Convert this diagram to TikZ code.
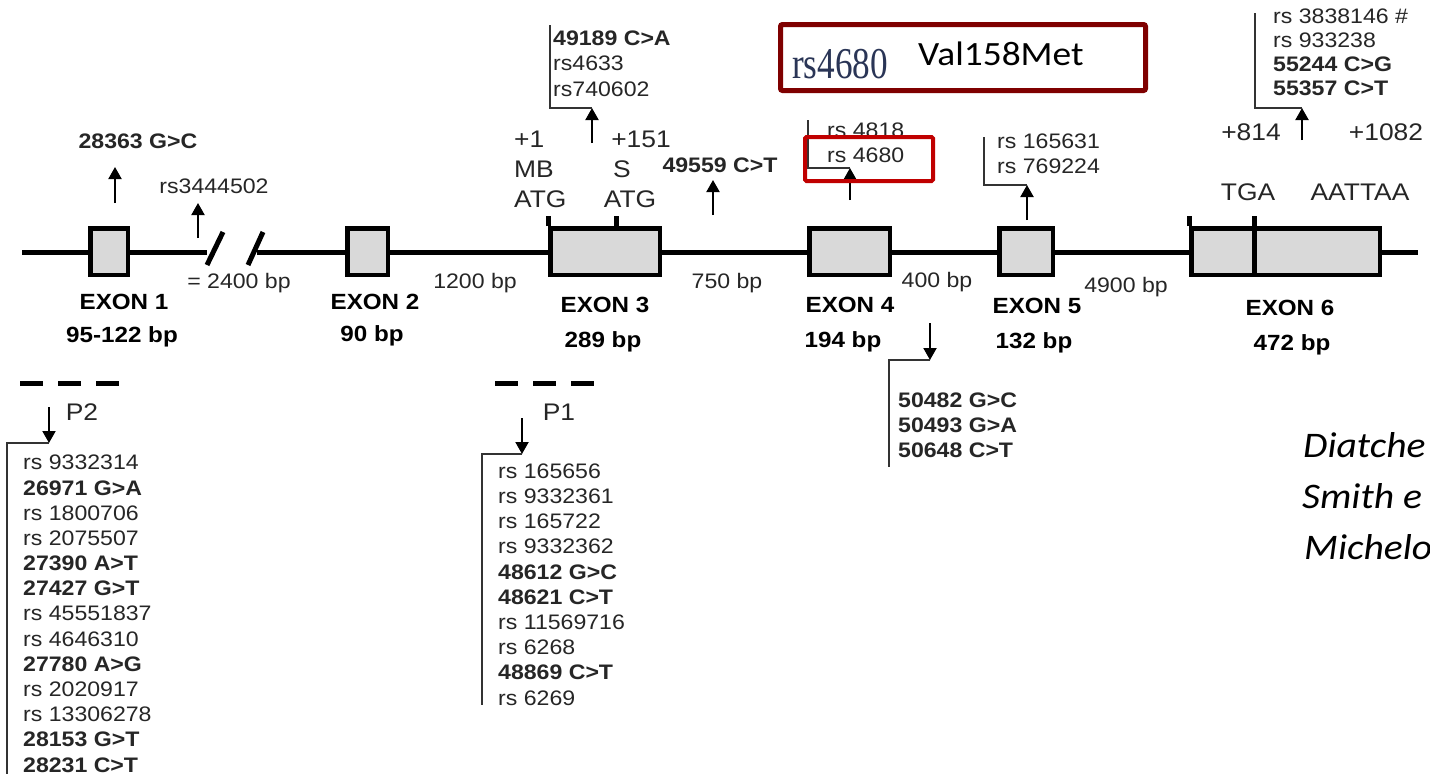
\documentclass[tikz,border=0pt]{standalone}
\usepackage{fontspec}
\setmainfont{Liberation Sans}[FakeStretch=1.1]
\newfontfamily\calfont{Carlito}[FakeStretch=1.1]
\newfontfamily\serfont{Liberation Serif}
\usetikzlibrary{arrows.meta}
\definecolor{exongray}{HTML}{D9D9D9}
\definecolor{hlred}{HTML}{C00000}
\definecolor{boxmaroon}{HTML}{7F0000}
\definecolor{txtgray}{HTML}{262626}
\definecolor{rsblue}{HTML}{2A3556}
\tikzset{
  exon/.style={draw=black, fill=exongray, line width=4.5pt, minimum height=46.5pt, inner sep=0pt},
  gene/.style={line width=5pt},
  snp/.style={line width=2pt, -{Triangle[width=13pt,length=12pt]}},
  brk/.style={line width=1.6pt, draw=black!80},
  prom/.style={line width=5pt, dash pattern=on 23pt off 15pt},
  lbl/.style={inner sep=0pt, text=txtgray, font=\fontsize{21}{25.17}\selectfont},
  big/.style={inner sep=0pt, text=black, font=\fontsize{22}{26}\selectfont\bfseries},
  site/.style={inner sep=0pt, text=txtgray, font=\fontsize{24}{30}\selectfont},
  cite/.style={inner sep=0pt, anchor=base west, font=\calfont\itshape\fontsize{36}{36}\selectfont},
}
\begin{document}
\begin{tikzpicture}[x=1pt,y=-1pt]
\useasboundingbox[fill=white] (0,0) rectangle (1430,774);

% gene line with break
\coordinate (gstart) at (22,252);
\coordinate (gcuta) at (207,252);
\coordinate (gcutb) at (257,252);
\coordinate (gend) at (1418,252);
\draw[gene] (gstart) -- (gcuta);
\draw[gene] (gcutb) -- (gend);
\draw[gene] (207,265) -- (223,232);
\draw[gene] (248,265) -- (263,232);

% exons
\node (exa) [exon, minimum width=37.5pt] at (109,251.5) {};
\node (exb) [exon, minimum width=40.5pt] at (367.5,251.5) {};
\node (exc) [exon, minimum width=109.5pt] at (605,251.5) {};
\node (exd) [exon, minimum width=80.5pt] at (849.5,251.5) {};
\node (exe) [exon, minimum width=53.5pt] at (1026,251.5) {};
\node (exf) [exon, minimum width=188.5pt] at (1285.5,251.5) {};
\draw[gene] (exc.north west) -- ++(0,-10);
\draw[gene] (exc.north west) ++(68,0) -- ++(0,-10);
\draw[gene] (exf.north west) -- ++(0,-10);
\draw[gene] (exf.north west) ++(65,-10) -- ++(0,57);

% exon names and sizes
\node (exaname) [big, anchor=base] at (124,309) {EXON 1};
\node (exasize) [big, anchor=base] at (122,342) {95-122 bp};
\node (exbname) [big, anchor=base] at (375,309) {EXON 2};
\node (exbsize) [big, anchor=base] at (372,341) {90 bp};
\node (excname) [big, anchor=base] at (605,312) {EXON 3};
\node (excsize) [big, anchor=base] at (603,347) {289 bp};
\node (exdname) [big, anchor=base] at (850,312) {EXON 4};
\node (exdsize) [big, anchor=base] at (843,347) {194 bp};
\node (exename) [big, anchor=base] at (1037,313) {EXON 5};
\node (exesize) [big, anchor=base] at (1034,348) {132 bp};
\node (exfname) [big, anchor=base] at (1290,315) {EXON 6};
\node (exfsize) [big, anchor=base] at (1292,350) {472 bp};

% intron lengths
\node (cut) [lbl, anchor=base] at (239,288) {= 2400 bp};
\node (inb) [lbl, anchor=base] at (475,288) {1200 bp};
\node (inc) [lbl, anchor=base] at (727,288) {750 bp};
\node (ind) [lbl, anchor=base] at (937,287) {400 bp};
\node (ine) [lbl, anchor=base] at (1126,292) {4900 bp};

% exon 1 snps
\node (snpa) [lbl, anchor=base] at (138,148) {\textbf{28363 G>C}};
\coordinate (upa0) at (115,203);
\coordinate (upa1) at (115,167);
\draw[snp] (upa0) -- (upa1);
\node (snpb) [lbl, anchor=base] at (214,193) {rs3444502};
\coordinate (upb0) at (198,238);
\coordinate (upb1) at (198,203);
\draw[snp] (upb0) -- (upb1);

% exon 3 start sites and snps (multi-line nodes sit on their last baseline)
\node (mbatg) [site, anchor=base west, align=left] at (514,207) {+1\\MB\\ATG};
\node (splus) [site, anchor=base] at (641,147) {+151};
\node (satga) [site, anchor=base] at (622,177) {S};
\node (satgb) [site, anchor=base] at (630,207) {ATG};
\coordinate (upc0) at (592,143);
\coordinate (upc1) at (592,108);
\coordinate (brc) at (550,25);
\draw[snp] (upc0) -- (upc1);
\draw[brk] (upc1) -| (brc);
\node (lstc) [lbl, anchor=base west, align=left, font=\fontsize{21}{25.5}\selectfont] at (553,96) {\textbf{49189 C>A}\\rs4633\\rs740602};
\node (snpd) [lbl, anchor=base] at (720,172) {\textbf{49559 C>T}};
\coordinate (upd0) at (713,215);
\coordinate (upd1) at (713,180);
\draw[snp] (upd0) -- (upd1);

% exon 4 snps
\coordinate (upe0) at (850,200);
\coordinate (upe1) at (850,168);
\coordinate (bre) at (808,120);
\draw[snp] (upe0) -- (upe1);
\draw[brk] (upe1) -| (bre);
\node (lste) [lbl, anchor=base west, align=left, font=\fontsize{21}{25}\selectfont] at (827,162) {rs 4818\\rs 4680};
\node (hlbox) [draw=hlred, line width=4pt, rounded corners=1.5pt, minimum width=128pt, minimum height=44pt] at (869,159) {};
\coordinate (dnc0) at (930,323);
\coordinate (dnc1) at (930,360);
\coordinate (brc4) at (889,467);
\draw[snp] (dnc0) -- (dnc1);
\draw[brk] (dnc1) -| (brc4);
\node (lstd) [lbl, anchor=base west, align=left, font=\fontsize{21}{25}\selectfont] at (898,457) {\textbf{50482 G>C}\\\textbf{50493 G>A}\\\textbf{50648 C>T}};

% exon 5 snps
\coordinate (upf0) at (1027,220);
\coordinate (upf1) at (1027,185);
\coordinate (brf) at (984,137);
\draw[snp] (upf0) -- (upf1);
\draw[brk] (upf1) -| (brf);
\node (lstf) [lbl, anchor=base west, align=left, font=\fontsize{21}{25}\selectfont] at (997,173) {rs 165631\\rs 769224};

% exon 6 sites and snps
\coordinate (upg0) at (1302,140);
\coordinate (upg1) at (1302,108);
\coordinate (brg) at (1255,13);
\draw[snp] (upg0) -- (upg1);
\draw[brk] (upg1) -| (brg);
\node (lstg) [lbl, anchor=base west, align=left, font=\fontsize{21}{23.7}\selectfont] at (1273,95) {rs 3838146 \#\\rs 933238\\\textbf{55244 C>G}\\\textbf{55357 C>T}};
\node (pla) [site, anchor=base] at (1251,140) {+814};
\node (plb) [site, anchor=base] at (1386,140) {+1082};
\node (tga) [site, anchor=base] at (1248,200) {TGA};
\node (polya) [site, anchor=base] at (1360,200) {AATTAA};

% Val158Met callout
\node (callout) [draw=boxmaroon, line width=5pt, rounded corners=2pt, minimum width=365pt, minimum height=66pt, inner sep=0pt] at (963,57.5) {};
\node (rsid) [inner sep=0pt, anchor=base west, text=rsblue, font=\serfont\fontsize{44}{44}\selectfont, xscale=0.8] at (792,78) {rs4680};
\node (valmet) [inner sep=0pt, anchor=base west, font=\calfont\fontsize{34}{34}\selectfont] at (918,65) {Val158Met};

% promoter P2
\coordinate (pba) at (20,383);
\coordinate (pbb) at (119,383);
\draw[prom] (pba) -- (pbb);
\node (ptwo) [site, anchor=base] at (82,420) {P2};
\coordinate (dna0) at (49,407);
\coordinate (dna1) at (49,443);
\coordinate (brh) at (7,774);
\draw[snp] (dna0) -- (dna1);
\draw[brk] (dna1) -| (brh);
\node (lsth) [lbl, anchor=base west, align=left] at (23,772) {rs 9332314\\\textbf{26971 G>A}\\rs 1800706\\rs 2075507\\\textbf{27390 A>T}\\\textbf{27427 G>T}\\rs 45551837\\rs 4646310\\\textbf{27780 A>G}\\rs 2020917\\rs 13306278\\\textbf{28153 G>T}\\\textbf{28231 C>T}};

% promoter P1
\coordinate (ppa) at (495,383);
\coordinate (ppb) at (594,383);
\draw[prom] (ppa) -- (ppb);
\node (pone) [site, anchor=base] at (559,420) {P1};
\coordinate (dnb0) at (522,418);
\coordinate (dnb1) at (522,454);
\coordinate (bri) at (482,705);
\draw[snp] (dnb0) -- (dnb1);
\draw[brk] (dnb1) -| (bri);
\node (lsti) [lbl, anchor=base west, align=left, font=\fontsize{21}{25.2}\selectfont] at (498,705) {rs 165656\\rs 9332361\\rs 165722\\rs 9332362\\\textbf{48612 G>C}\\\textbf{48621 C>T}\\rs 11569716\\rs 6268\\\textbf{48869 C>T}\\rs 6269};

% references
\node (refa) [cite] at (1303,457) {Diatche};
\node (refb) [cite] at (1302,508) {Smith e};
\node (refc) [cite] at (1304,559) {Michelo};
\end{tikzpicture}
\end{document}
